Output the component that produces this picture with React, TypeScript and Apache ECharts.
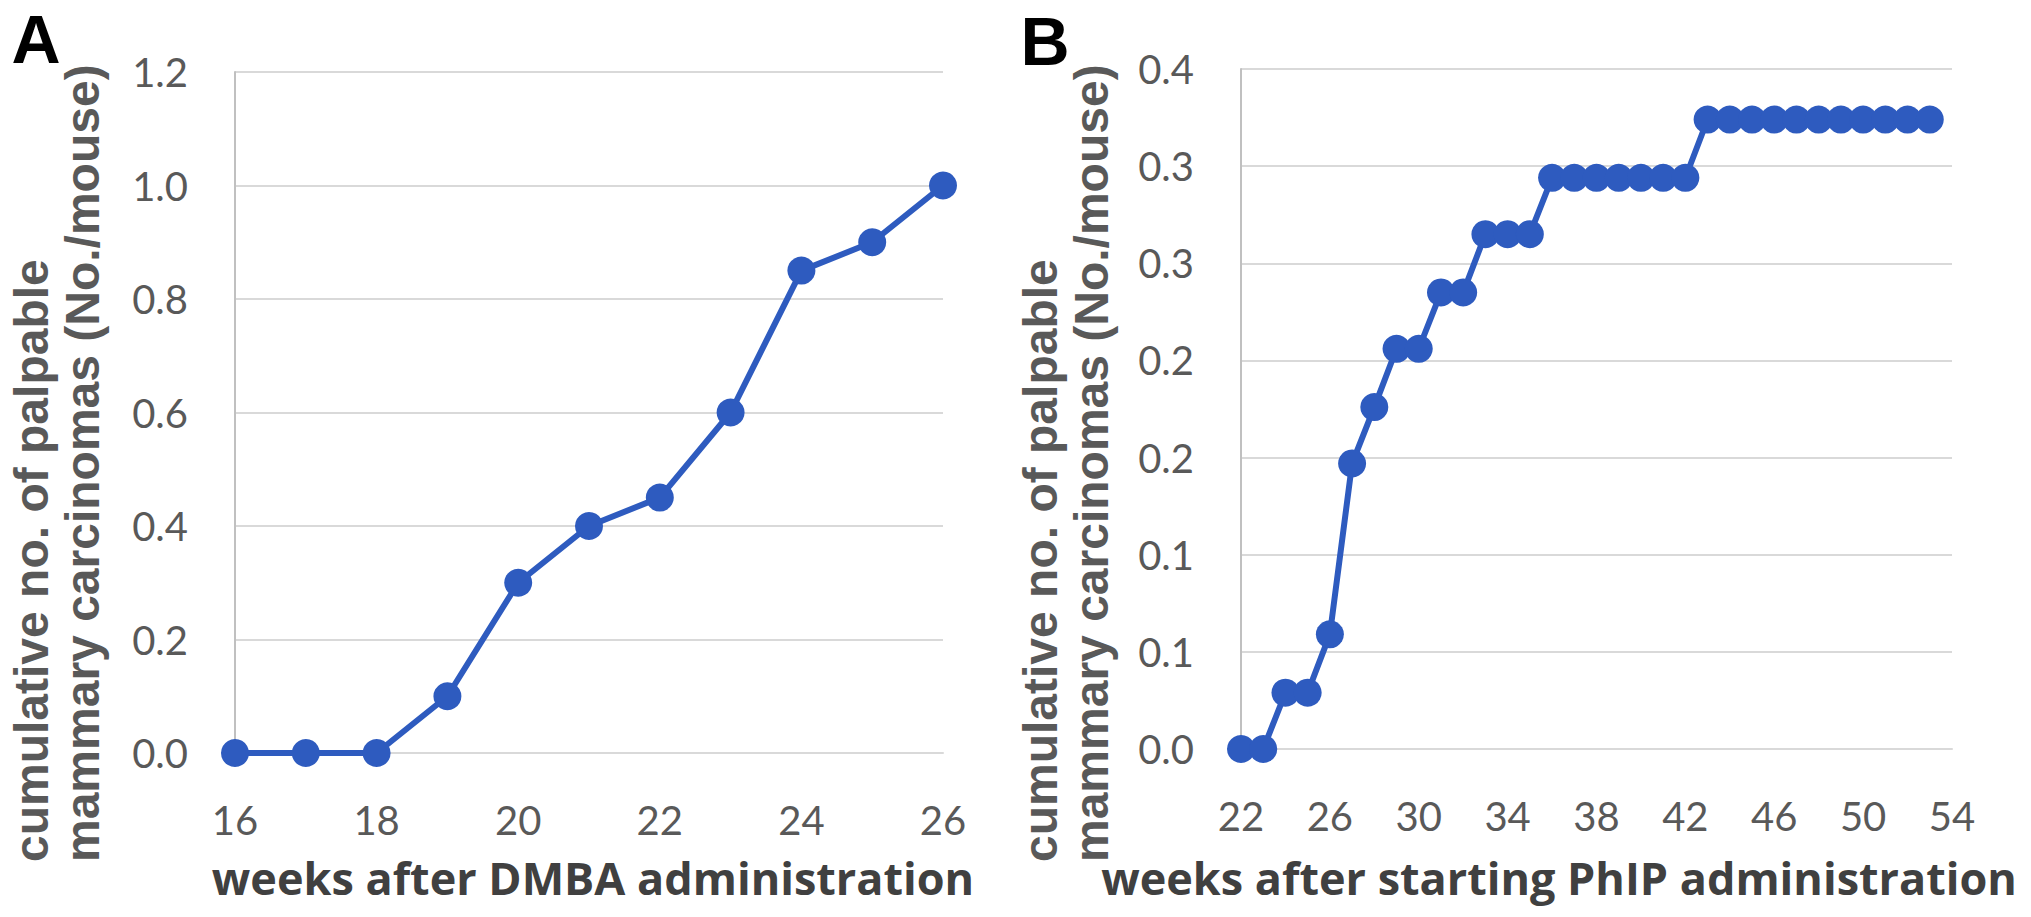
import React, { useEffect, useRef } from 'react';
import * as echarts from 'echarts';

// Panel A
const weeksA = [16, 17, 18, 19, 20, 21, 22, 23, 24, 25, 26];
const valuesA = [0, 0, 0, 0.1, 0.3, 0.4, 0.45, 0.6, 0.85, 0.9, 1.0];
const yLabelsA = ['0.0', '0.2', '0.4', '0.6', '0.8', '1.0', '1.2'];
const xLabelsA = ['16', '18', '20', '22', '24', '26'];

// Panel B
const weeksB = [22, 23, 24, 25, 26, 27, 28, 29, 30, 31, 32, 33, 34, 35, 36, 37, 38, 39, 40, 41, 42, 43, 44, 45, 46, 47, 48, 49, 50, 51, 52, 53];
const valuesB = [0, 0, 0.029, 0.029, 0.059, 0.147, 0.176, 0.206, 0.206, 0.235, 0.235, 0.265, 0.265, 0.265, 0.294, 0.294, 0.294, 0.294, 0.294, 0.294, 0.294, 0.324, 0.324, 0.324, 0.324, 0.324, 0.324, 0.324, 0.324, 0.324, 0.324, 0.324];
const yLabelsB = ['0.0', '0.1', '0.1', '0.2', '0.2', '0.3', '0.3', '0.4'];
const xLabelsB = ['22', '26', '30', '34', '38', '42', '46', '50', '54'];

const yTitle = 'cumulative no. of palpable\nmammary carcinomas (No./mouse)';
const xTitleA = 'weeks after DMBA administration';
const xTitleB = 'weeks after starting PhIP administration';

const BLUE = '#2E5BBF';
const GRID = '#d9d9d9';
const TICK = { color: '#595959', fontFamily: 'Lato', fontSize: 40 };

export default function App() {
  const ref = useRef<HTMLDivElement>(null);
  useEffect(() => {
    if (!ref.current) return;
    const chart = echarts.init(ref.current, undefined, { renderer: 'svg' });
    const yAxisCommon = (labels: string[], step: number, max: number) => ({
      type: 'value',
      min: 0,
      max,
      interval: step,
      axisLine: { show: true, lineStyle: { color: '#c0c0c0', width: 2 } },
      axisTick: { show: false },
      splitLine: { show: true, lineStyle: { color: GRID, width: 2 } },
      axisLabel: {
        ...TICK,
        margin: 47,
        formatter: (v: number) => labels[Math.round(v / step)] ?? '',
      },
    });
    const xAxisCommon = (labels: string[], min: number, max: number, step: number) => ({
      type: 'value',
      min,
      max,
      interval: step,
      axisLine: { show: true, lineStyle: { color: GRID, width: 2 } },
      axisTick: { show: false },
      splitLine: { show: false },
      axisLabel: {
        ...TICK,
        margin: 47,
        formatter: (v: number) => labels[Math.round((v - min) / step)] ?? '',
      },
    });
    const seriesCommon = {
      type: 'line',
      symbol: 'circle',
      symbolSize: 28,
      clip: false,
      lineStyle: { color: BLUE, width: 6 },
      itemStyle: { color: BLUE },
    };
    const titleStyle = {
      fill: '#404040',
      fontFamily: '"Open Sans"',
      fontWeight: 'bold',
      fontSize: 45,
      align: 'center',
      verticalAlign: 'middle',
    };
    const yTitleStyle = {
      text: yTitle,
      fill: '#595959',
      fontFamily: '"Liberation Sans", Arial, sans-serif',
      fontWeight: 'bold',
      fontSize: 48,
      lineHeight: 51,
      align: 'left',
      verticalAlign: 'middle',
    };
    const letterStyle = {
      fill: '#000000',
      fontFamily: '"Liberation Sans", Arial, sans-serif',
      fontWeight: 'bold',
      fontSize: 68,
      align: 'center',
      verticalAlign: 'middle',
    };
    chart.setOption({
      animation: false,
      backgroundColor: '#ffffff',
      grid: [
        { left: 235, top: 72, width: 708, height: 681 },
        { left: 1241, top: 69, width: 711, height: 680 },
      ],
      xAxis: [
        { ...xAxisCommon(xLabelsA, 16, 26, 2), gridIndex: 0 },
        { ...xAxisCommon(xLabelsB, 22, 54, 4), gridIndex: 1 },
      ],
      yAxis: [
        { ...yAxisCommon(yLabelsA, 0.2, 1.2), gridIndex: 0 },
        { ...yAxisCommon(yLabelsB, 0.05, 0.35), gridIndex: 1 },
      ],
      series: [
        { ...seriesCommon, xAxisIndex: 0, yAxisIndex: 0, data: weeksA.map((w, i) => [w, valuesA[i]]) },
        { ...seriesCommon, xAxisIndex: 1, yAxisIndex: 1, data: weeksB.map((w, i) => [w, valuesB[i]]) },
      ],
      graphic: [
        { type: 'text', x: 36, y: 39, style: { ...letterStyle, text: 'A' } },
        { type: 'text', x: 1045, y: 41, style: { ...letterStyle, text: 'B' } },
        { type: 'text', x: 57, y: 862, rotation: Math.PI / 2, style: yTitleStyle },
        { type: 'text', x: 1066, y: 862, rotation: Math.PI / 2, style: yTitleStyle },
        { type: 'text', x: 593, y: 877, style: { ...titleStyle, text: xTitleA } },
        { type: 'text', x: 1559, y: 877, style: { ...titleStyle, text: xTitleB } },
      ],
    });
    return () => chart.dispose();
  }, []);
  return (
    <div
      ref={ref}
      style={{ position: 'fixed', left: 0, top: 0, width: 2031, height: 917, background: '#fff' }}
    />
  );
}
